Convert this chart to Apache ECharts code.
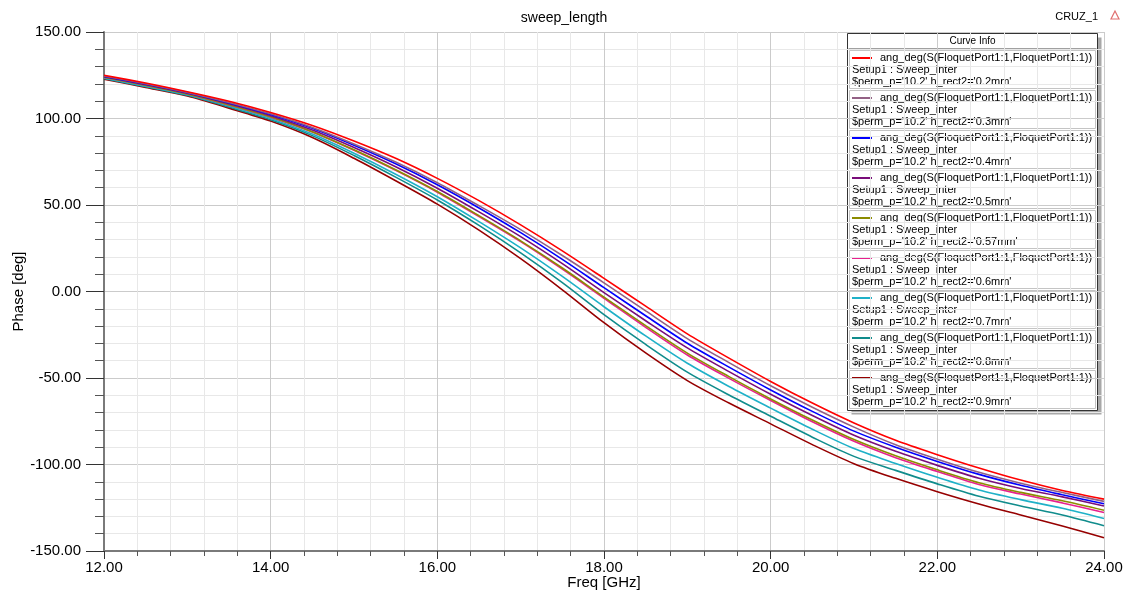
<!DOCTYPE html>
<html>
<head>
<meta charset="utf-8">
<script src="https://cdn.jsdelivr.net/npm/echarts@6/dist/echarts.min.js"></script>
<style>
html,body{margin:0;padding:0;background:#fff;}
#chart{width:1128px;height:595px;}
</style>
</head>
<body>
<div id="chart"></div>
<script>
// ---- data ----
const freqs = [12, 12.5, 13, 13.5, 14, 14.5, 15, 15.5, 16, 16.5, 17, 17.5, 18, 18.5, 19, 19.5, 20, 20.5, 21, 21.5, 22, 22.5, 23, 23.5, 24];
const phase_0p2  = [125.0, 120.5, 115.5, 110.0, 103.5, 96.0, 87.0, 77.0, 65.4, 52.5, 38.5, 23.5, 7.6, -8.5, -24.5, -38.5, -52.0, -64.5, -76.0, -86.0, -94.3, -102.0, -109.0, -115.0, -120.0];
const phase_0p3  = [124.6, 120.1, 115.1, 109.3, 102.7, 94.8, 85.3, 74.8, 62.9, 49.6, 35.8, 20.8, 5.0, -11.2, -27.2, -41.1, -54.5, -66.9, -78.4, -88.6, -96.9, -104.5, -110.8, -116.2, -121.3];
const phase_0p4  = [124.4, 119.9, 114.9, 109.0, 102.3, 94.3, 84.5, 73.8, 61.7, 48.3, 34.0, 18.6, 2.2, -14.0, -29.9, -43.7, -56.9, -69.3, -80.7, -90.0, -98.2, -105.7, -112.0, -117.5, -122.7];
const phase_0p5  = [124.1, 119.6, 114.6, 108.5, 101.6, 93.3, 83.2, 72.1, 59.7, 46.0, 31.7, 16.1, -0.6, -16.9, -32.6, -46.3, -59.4, -71.7, -83.1, -92.4, -100.5, -108.0, -113.9, -118.7, -124.0];
const phase_0p57 = [123.8, 119.2, 114.2, 108.0, 101.0, 92.4, 81.9, 70.4, 57.8, 43.8, 29.3, 13.6, -3.2, -19.7, -35.6, -49.2, -62.1, -74.3, -85.6, -95.0, -103.1, -110.5, -116.1, -121.0, -126.5];
const phase_0p6  = [123.8, 119.2, 114.2, 107.8, 100.8, 92.2, 81.6, 70.0, 57.4, 43.3, 28.8, 12.9, -3.9, -20.7, -36.7, -50.2, -63.0, -75.3, -86.6, -96.1, -104.1, -111.6, -117.1, -122.2, -127.8];
const phase_0p7  = [123.4, 118.7, 113.7, 107.2, 100.0, 91.0, 79.9, 67.8, 54.8, 40.4, 25.2, 8.7, -8.8, -25.7, -41.5, -54.9, -67.4, -79.6, -90.8, -99.4, -107.4, -114.7, -120.3, -125.3, -131.2];
const phase_0p8  = [123.1, 118.4, 113.4, 106.6, 99.3, 90.1, 78.6, 66.1, 52.9, 38.2, 22.3, 5.1, -13.4, -30.6, -46.6, -59.8, -72.1, -84.2, -95.3, -103.4, -111.2, -118.4, -124.0, -129.2, -135.4];
const phase_0p9  = [122.7, 118.0, 113.0, 106.0, 98.5, 89.0, 77.0, 64.0, 50.5, 35.5, 19.0, 1.0, -18.0, -35.5, -51.5, -64.5, -76.5, -88.5, -99.5, -108.0, -115.7, -122.8, -129.2, -135.5, -142.3];
const hRect2Labels = ['0.2mm', '0.3mm', '0.4mm', '0.5mm', '0.57mm', '0.6mm', '0.7mm', '0.8mm', '0.9mm'];
const seriesColors = ['#ff0000', '#936185', '#0000ff', '#7a0d7a', '#8c8c00', '#e8208e', '#1fb1c8', '#108c8c', '#960000'];
const yTickMin = -150, yTickMax = 150, yTickStep = 50;
const xTickMin = 12, xTickMax = 24, xTickStep = 2;
const traceName = 'ang_deg(S(FloquetPort1:1,FloquetPort1:1))';
const setupName = 'Setup1 : Sweep_inter';
const permText = "$perm_p='10.2'";

const allPhases = [phase_0p2, phase_0p3, phase_0p4, phase_0p5, phase_0p57, phase_0p6, phase_0p7, phase_0p8, phase_0p9];

const FONT = '"Liberation Sans", Arial, sans-serif';
const chart = echarts.init(document.getElementById('chart'), null, {renderer: 'canvas'});

const series = allPhases.map((vals, k) => ({
  name: "h_rect2='" + hRect2Labels[k] + "'",
  type: 'line',
  data: freqs.map((f, i) => [f, vals[i]]),
  showSymbol: false,
  smooth: 0.3,
  lineStyle: {color: seriesColors[k], width: 1.6},
  itemStyle: {color: seriesColors[k]},
  z: 3 + (allPhases.length - k) * 0.01,
  animation: false
}));

// legend box ("Curve Info") built from the same arrays
const LX = 847.5, LY = 33.5, LW = 250, LH = 377, ROW = 40;
const legendEls = [
  {type: 'rect', shape: {x: LX + 4, y: LY + 4, width: LW, height: LH}, style: {fill: '#a8a8a8'}},
  {type: 'rect', shape: {x: LX, y: LY, width: LW, height: LH}, style: {fill: '#ffffff', stroke: '#333333', lineWidth: 1}},
  {type: 'text', x: LX + LW / 2, y: LY + 8, style: {text: 'Curve Info', font: '10px ' + FONT, fill: '#000', align: 'center', verticalAlign: 'middle'}},
  {type: 'line', shape: {x1: LX + 1, y1: LY + 15, x2: LX + LW - 1, y2: LY + 15}, style: {stroke: '#a0a0a0', lineWidth: 1}}
];
hRect2Labels.forEach((lab, k) => {
  const top = LY + 16 + ROW * k;   // x.5 coordinate
  legendEls.push(
    {type: 'rect', shape: {x: LX + 2, y: top + 1, width: LW - 4, height: ROW - 2}, style: {fill: 'none', stroke: '#c4c4c4', lineWidth: 1}},
    {type: 'line', shape: {x1: LX + 4.5, y1: top + 8.5, x2: LX + 24.5, y2: top + 8.5}, style: {stroke: seriesColors[k], lineWidth: 2}},
    {type: 'text', x: LX + 32.5, y: top + 8.5, style: {text: traceName, font: '11px ' + FONT, fill: '#000', align: 'left', verticalAlign: 'middle'}},
    {type: 'text', x: LX + 4.5, y: top + 20.5, style: {text: setupName, font: '11px ' + FONT, fill: '#000', align: 'left', verticalAlign: 'middle'}},
    {type: 'text', x: LX + 4.5, y: top + 32.5, style: {text: permText + " h_rect2='" + lab + "'", font: '11px ' + FONT, fill: '#000', align: 'left', verticalAlign: 'middle'}}
  );
});

const option = {
  backgroundColor: '#ffffff',
  animation: false,
  textStyle: {fontFamily: FONT},
  title: {
    text: 'sweep_length', left: 'center', top: 6,
    textStyle: {fontSize: 14, fontWeight: 'normal', color: '#000', fontFamily: FONT}
  },
  grid: {left: 104, right: 24, top: 32, bottom: 44, containLabel: false, outerBoundsMode: 'none'},
  xAxis: {
    type: 'value', min: xTickMin, max: xTickMax, interval: xTickStep,
    name: 'Freq [GHz]', nameLocation: 'middle', nameGap: 24, nameMoveOverlap: false,
    nameTextStyle: {fontSize: 15, color: '#000', fontFamily: FONT},
    axisLine: {show: true, onZero: false, lineStyle: {color: '#7a7a7a', width: 2}},
    axisTick: {show: true, length: 8, lineStyle: {color: '#333'}},
    minorTick: {show: true, splitNumber: 5, length: 5, lineStyle: {color: '#555'}},
    axisLabel: {fontSize: 15, color: '#000', margin: 9, formatter: v => v.toFixed(2), fontFamily: FONT},
    splitLine: {show: true, lineStyle: {color: '#cbcbcb', width: 1}},
    minorSplitLine: {show: true, lineStyle: {color: '#e8e8e8', width: 1}}
  },
  yAxis: {
    type: 'value', min: yTickMin, max: yTickMax, interval: yTickStep,
    name: 'Phase [deg]', nameLocation: 'middle', nameGap: 78, nameRotate: 90, nameMoveOverlap: false,
    nameTextStyle: {fontSize: 15, color: '#000', fontFamily: FONT},
    axisLine: {show: true, onZero: false, lineStyle: {color: '#7a7a7a', width: 2}},
    axisTick: {show: true, length: 18, lineStyle: {color: '#333'}},
    minorTick: {show: true, splitNumber: 5, length: 9, lineStyle: {color: '#555'}},
    axisLabel: {fontSize: 15, color: '#000', margin: 23, formatter: v => v.toFixed(2), fontFamily: FONT},
    splitLine: {show: true, lineStyle: {color: '#cbcbcb', width: 1}},
    minorSplitLine: {show: true, lineStyle: {color: '#e8e8e8', width: 1}}
  },
  graphic: [
    {type: 'text', x: 1098, y: 17, z: 100, style: {text: 'CRUZ_1', font: '11px ' + FONT, fill: '#000', align: 'right', verticalAlign: 'middle'}},
    {type: 'polygon', z: 100, shape: {points: [[1115, 11], [1111, 19], [1119, 19]]}, style: {fill: 'none', stroke: '#e07070', lineWidth: 1.2}},
    {type: 'group', z: 100, children: legendEls}
  ],
  series: series
};
chart.setOption(option);
</script>
</body>
</html>
